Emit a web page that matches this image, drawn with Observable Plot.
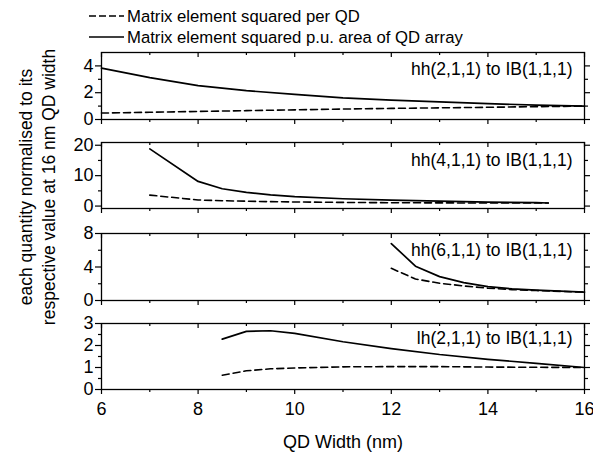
<!DOCTYPE html>
<html><head><meta charset="utf-8">
<script src="https://cdn.jsdelivr.net/npm/d3@7"></script>
<script src="https://cdn.jsdelivr.net/npm/@observablehq/plot@0.6"></script>
<style>
body{margin:0;background:#fff;font-family:"Liberation Sans",Arial,sans-serif;}
#chart{position:relative;width:593px;height:454px;overflow:hidden;}
#chart svg.panel{position:absolute;left:0;}
#ylabel{position:absolute;left:38px;top:187px;transform:translate(-50%,-50%) rotate(-90deg);white-space:nowrap;text-align:center;font-size:17.5px;line-height:23px;color:#000;}
</style></head><body><div id="chart"></div>
<script>
// ---- data ----
const seriesNames = ["Matrix element squared per QD", "Matrix element squared p.u. area of QD array"];
const panelLabels = ["hh(2,1,1) to IB(1,1,1)", "hh(4,1,1) to IB(1,1,1)", "hh(6,1,1) to IB(1,1,1)", "lh(2,1,1) to IB(1,1,1)"];
const xLabel = "QD Width (nm)";
const yLabelLines = ["each quantity normalised to its", "respective value at 16 nm QD width"];
const xMajorTicks = [6, 8, 10, 12, 14, 16];
const xMinorTicks = [7, 9, 11, 13, 15];

const hh2Width = [6, 7, 8, 9, 10, 11, 12, 13, 14, 15, 16];
const hh2Area  = [3.83, 3.13, 2.53, 2.15, 1.88, 1.62, 1.45, 1.31, 1.18, 1.08, 1.0];
const hh2PerQD = [0.48, 0.54, 0.6, 0.66, 0.72, 0.78, 0.83, 0.87, 0.91, 0.96, 1.0];
const hh2YMajor = [0, 2, 4];
const hh2YMinor = [1, 3];

const hh4Width = [7, 8, 8.5, 9, 9.5, 10, 11, 12, 13, 14, 15, 15.25];
const hh4Area  = [18.8, 8.1, 5.7, 4.5, 3.7, 3.1, 2.4, 1.95, 1.6, 1.3, 1.1, 1.0];
const hh4PerQD = [3.6, 2.0, 1.75, 1.6, 1.45, 1.35, 1.2, 1.1, 1.05, 1.0, 1.0, 1.0];
const hh4YMajor = [0, 10, 20];
const hh4YMinor = [5, 15];

const hh6Width = [12, 12.5, 13, 13.5, 14, 14.5, 15, 15.5, 16];
const hh6Area  = [6.8, 4.1, 2.85, 2.14, 1.66, 1.39, 1.25, 1.13, 1.0];
const hh6PerQD = [3.84, 2.57, 2.06, 1.74, 1.47, 1.3, 1.19, 1.09, 1.0];
const hh6YMajor = [0, 4, 8];
const hh6YMinor = [2, 6];

const lh2Width = [8.5, 9, 9.5, 10, 11, 12, 13, 14, 15, 16];
const lh2Area  = [2.29, 2.64, 2.67, 2.55, 2.17, 1.86, 1.59, 1.37, 1.19, 1.0];
const lh2PerQD = [0.65, 0.85, 0.94, 0.98, 1.03, 1.04, 1.04, 1.02, 1.01, 1.0];
const lh2YMajor = [0, 1, 2, 3];
const lh2YMinor = [0.5, 1.5, 2.5];

// ---- drawing ----
const W = 593, ML = 101, MR = 9;
const FONT = '"Liberation Sans", Arial, sans-serif';
const chart = document.getElementById("chart");

function panel({xs, area, perQD, domain, major, minor, label, top, innerH, last, labelDy}) {
  const mt = 10, mb = last ? 65 : 10;
  const data = xs.map((x, i) => ({x, a: area[i], q: perQD[i]}));
  const blank = () => "";
  const marks = [
    Plot.axisY(major, {anchor: "left", tickSize: 6, tickPadding: 2, fontSize: 18, label: null, strokeWidth: 1.2}),
    Plot.axisY(minor, {anchor: "left", tickSize: 3, tickFormat: blank, label: null, strokeWidth: 1.2}),
    Plot.axisY(major, {anchor: "right", tickSize: 5, tickFormat: blank, label: null, strokeWidth: 1.2}),
    Plot.axisY(minor, {anchor: "right", tickSize: 3, tickFormat: blank, label: null, strokeWidth: 1.2}),
    Plot.axisX(xMajorTicks, {anchor: "bottom", tickSize: 5, tickPadding: 8, fontSize: 18, tickFormat: last ? (d => String(d)) : blank, label: null, strokeWidth: 1.2}),
    Plot.axisX(xMinorTicks, {anchor: "bottom", tickSize: 3, tickFormat: blank, label: null, strokeWidth: 1.2}),
    Plot.tickX(xMajorTicks, {x: d => d, insetBottom: innerH - 5, stroke: "#000", strokeWidth: 1.2}),
    Plot.tickX(xMinorTicks, {x: d => d, insetBottom: innerH - 3, stroke: "#000", strokeWidth: 1.2}),
    Plot.frame({stroke: "#000", strokeWidth: 1.3}),
    Plot.line(data, {x: "x", y: "q", stroke: "#000", strokeWidth: 1.6, strokeDasharray: "7,4"}),
    Plot.line(data, {x: "x", y: "a", stroke: "#000", strokeWidth: 1.7}),
    Plot.text([label], {text: d => d, frameAnchor: "top-right", dx: -12, dy: labelDy, textAnchor: "end", lineAnchor: "middle", fontSize: 17.5, fill: "#000"})
  ];
  if (last) {
    marks.push(Plot.text([xLabel], {text: d => d, frameAnchor: "bottom", dy: 53, lineAnchor: "middle", fontSize: 18, fill: "#000"}));
  }
  const svg = Plot.plot({
    width: W, height: mt + innerH + mb,
    marginLeft: ML, marginRight: MR, marginTop: mt, marginBottom: mb,
    x: {domain: [6, 16]},
    y: {domain},
    style: {fontFamily: FONT, fontSize: "16px", color: "#000", background: "transparent", overflow: "visible"},
    marks
  });
  svg.classList.add("panel");
  svg.style.top = (top - mt) + "px";
  chart.appendChild(svg);
}

panel({xs: hh2Width, area: hh2Area, perQD: hh2PerQD, domain: [0, 5], major: hh2YMajor, minor: hh2YMinor, label: panelLabels[0], top: 52, innerH: 67, last: false, labelDy: 17});
panel({xs: hh4Width, area: hh4Area, perQD: hh4PerQD, domain: [-0.8, 20.9], major: hh4YMajor, minor: hh4YMinor, label: panelLabels[1], top: 142, innerH: 66, last: false, labelDy: 18});
panel({xs: hh6Width, area: hh6Area, perQD: hh6PerQD, domain: [0, 8], major: hh6YMajor, minor: hh6YMinor, label: panelLabels[2], top: 233, innerH: 67, last: false, labelDy: 17});
panel({xs: lh2Width, area: lh2Area, perQD: lh2PerQD, domain: [0, 3], major: lh2YMajor, minor: lh2YMinor, label: panelLabels[3], top: 323, innerH: 66, last: true, labelDy: 15});

// legend
const legend = d3.select(chart).append("svg")
  .attr("width", W).attr("height", 48)
  .style("position", "absolute").style("left", "0px").style("top", "0px")
  .style("font-family", FONT).style("font-size", "16.7px");
const legendY = [16, 37];
const legendDash = ["7,3", null];
seriesNames.forEach((name, i) => {
  const g = legend.append("g");
  g.append("line").attr("x1", 89).attr("x2", 124).attr("y1", legendY[i]).attr("y2", legendY[i])
    .attr("stroke", "#000").attr("stroke-width", 1.5).attr("stroke-dasharray", legendDash[i]);
  g.append("text").attr("x", 127).attr("y", legendY[i]).attr("dy", "0.35em").attr("fill", "#000").text(name);
});

// y label
const yl = document.createElement("div");
yl.id = "ylabel";
yl.innerHTML = yLabelLines.join("<br>");
chart.appendChild(yl);
</script>
</body></html>
